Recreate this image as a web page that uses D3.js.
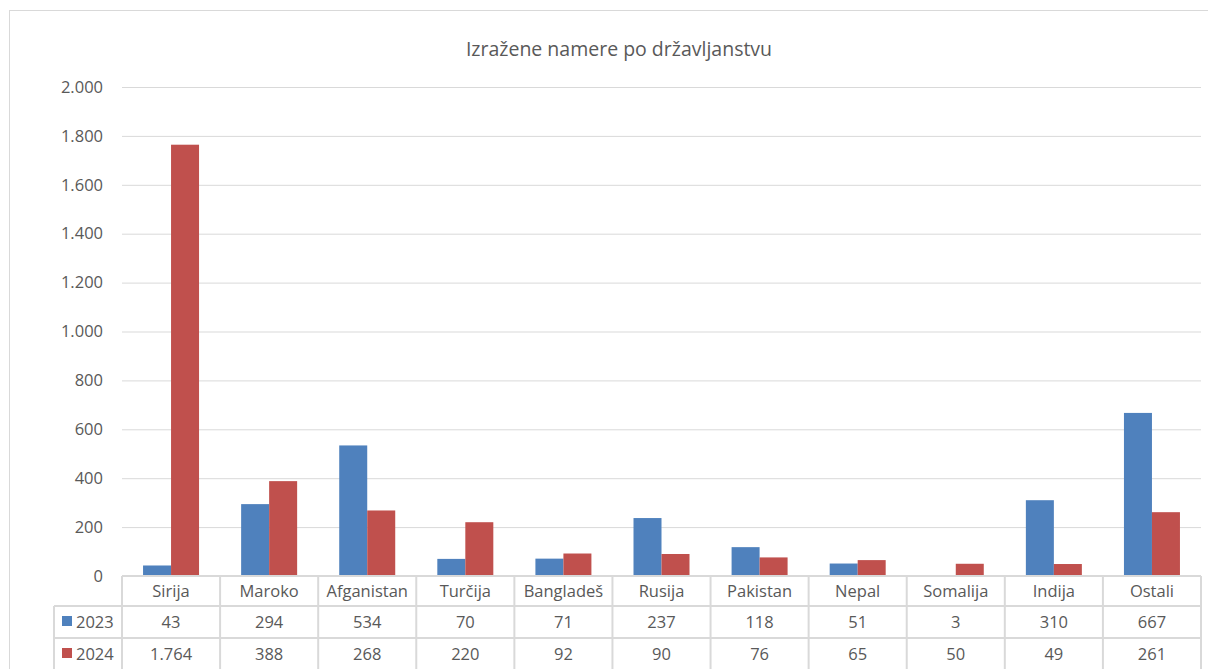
<!DOCTYPE html>
<html>
<head>
<meta charset="utf-8">
<script src="https://cdn.jsdelivr.net/npm/d3@7"></script>
<style>
  html, body { margin: 0; padding: 0; background: #fff; }
  svg { display: block; font-family: "Open Sans", "Noto Sans", sans-serif; }
</style>
</head>
<body>
<svg id="chart" width="1208" height="669"></svg>
<script>
const title = "Izražene namere po državljanstvu";
const categories = ["Sirija", "Maroko", "Afganistan", "Turčija", "Bangladeš", "Rusija", "Pakistan", "Nepal", "Somalija", "Indija", "Ostali"];
const seriesNames = ["2023", "2024"];
const values2023 = [43, 294, 534, 70, 71, 237, 118, 51, 3, 310, 667];
const values2024 = [1764, 388, 268, 220, 92, 90, 76, 65, 50, 49, 261];
const yTicks = [0, 200, 400, 600, 800, 1000, 1200, 1400, 1600, 1800, 2000];
const colors = ["#4f81bd", "#c0504d"];

const series = [values2023, values2024];
const fmt = v => d3.format(",")(v).replace(/,/g, ".");

const svg = d3.select("#chart");
const plot = { left: 122, right: 1201, top: 87, bottom: 576 };
const grid = "#d9d9d9";
const textColor = "#595959";
const fs = "16.5px";

// chart border
svg.append("rect").attr("x", 9.5).attr("y", 10.5).attr("width", 1230).attr("height", 700)
  .attr("fill", "none").attr("stroke", grid).attr("stroke-width", 1);

// title
svg.append("text").attr("x", 619).attr("y", 56).attr("text-anchor", "middle")
  .attr("fill", textColor).style("font-size", "19.5px").text(title);

const x = d3.scaleBand().domain(categories).range([plot.left, plot.right]).paddingInner(0).paddingOuter(0);
const bw = x.bandwidth();
const y = d3.scaleLinear().domain([0, 2000]).range([plot.bottom, plot.top]);

// gridlines + y labels
const yAxis = d3.axisLeft(y).tickValues(yTicks).tickSize(-(plot.right - plot.left)).tickFormat(fmt).tickPadding(19);
const gy = svg.append("g").attr("transform", `translate(${plot.left},0)`).call(yAxis);
gy.select(".domain").remove();
gy.selectAll(".tick line").attr("stroke", grid).attr("stroke-width", 1);
gy.selectAll(".tick text").attr("fill", textColor).style("font-size", fs)
  .style("font-family", '"Open Sans", "Noto Sans", sans-serif');

// bars
const innerW = 28;
const gapSide = (bw - 2 * innerW) / 2;
const groups = svg.append("g").selectAll("g").data(categories).join("g")
  .attr("transform", d => `translate(${x(d)},0)`);
groups.selectAll("rect").data((d, i) => series.map((s, k) => ({ k, v: s[i] })))
  .join("rect")
  .attr("x", d => gapSide + d.k * innerW)
  .attr("width", innerW)
  .attr("y", d => y(d.v))
  .attr("height", d => y(0) - y(d.v))
  .attr("fill", d => colors[d.k]);

// data table
const rowTop = [576, 606, 638];
const rowBottom = 670;
const tableLeft = 54;
const tg = svg.append("g").attr("stroke", grid).attr("stroke-width", 2).attr("fill", "none");
tg.append("line").attr("x1", plot.left).attr("x2", plot.right).attr("y1", rowTop[0]).attr("y2", rowTop[0]);
tg.append("line").attr("x1", tableLeft).attr("x2", plot.right).attr("y1", rowTop[1]).attr("y2", rowTop[1]);
tg.append("line").attr("x1", tableLeft).attr("x2", plot.right).attr("y1", rowTop[2]).attr("y2", rowTop[2]);
tg.append("line").attr("x1", tableLeft).attr("x2", tableLeft).attr("y1", rowTop[1]).attr("y2", rowBottom);
categories.forEach(c => {
  tg.append("line").attr("x1", x(c)).attr("x2", x(c)).attr("y1", rowTop[0]).attr("y2", rowBottom);
});
tg.append("line").attr("x1", plot.right).attr("x2", plot.right).attr("y1", rowTop[0]).attr("y2", rowBottom);

// header labels
svg.append("g").selectAll("text").data(categories).join("text")
  .attr("x", d => x(d) + bw / 2).attr("y", 597).attr("text-anchor", "middle")
  .attr("fill", textColor).style("font-size", fs).text(d => d);

// value rows
series.forEach((s, k) => {
  const yy = [628, 660][k];
  svg.append("g").selectAll("text").data(s).join("text")
    .attr("x", (d, i) => x(categories[i]) + bw / 2).attr("y", yy).attr("text-anchor", "middle")
    .attr("fill", textColor).style("font-size", fs).text(d => fmt(d));
  svg.append("rect").attr("x", 62).attr("y", yy - 12).attr("width", 10).attr("height", 10).attr("fill", colors[k]);
  svg.append("text").attr("x", 76).attr("y", yy).attr("fill", textColor).style("font-size", fs).text(seriesNames[k]);
});
</script>
</body>
</html>
